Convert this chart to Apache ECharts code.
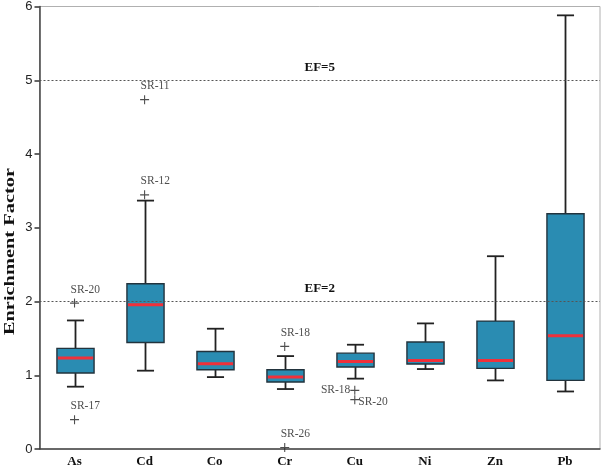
<!DOCTYPE html>
<html>
<head>
<meta charset="utf-8">
<script src="https://cdn.jsdelivr.net/npm/echarts@6/dist/echarts.min.js"></script>
<style>html,body{margin:0;padding:0;background:#fff;}#c{width:606px;height:470px;}</style>
</head>
<body>
<div id="c"></div>
<script>
const categories = ['As', 'Cd', 'Co', 'Cr', 'Cu', 'Ni', 'Zn', 'Pb'];
const whiskerLow  = [0.845, 1.062, 0.975, 0.813, 0.954, 1.084, 0.93, 0.78];
const q1          = [1.03, 1.445, 1.075, 0.908, 1.111, 1.152, 1.093, 0.93];
const median      = [1.233, 1.956, 1.157, 0.975, 1.188, 1.20, 1.20, 1.535];
const q3          = [1.364, 2.24, 1.323, 1.075, 1.30, 1.45, 1.734, 3.19];
const whiskerHigh = [1.743, 3.368, 1.631, 1.26, 1.414, 1.703, 2.614, 5.88];

const outlierCats   = ['As', 'As', 'Cd', 'Cd', 'Cr', 'Cr', 'Cu', 'Cu'];
const outlierValues = [1.978, 0.398, 4.737, 3.446, 1.391, 0.02, 0.795, 0.669];
const outlierNames  = ['SR-20', 'SR-17', 'SR-11', 'SR-12', 'SR-18', 'SR-26', 'SR-18', 'SR-20'];

const thresholds = [5, 2];
const thresholdLabels = ['EF=5', 'EF=2'];

const yTicks = { min: 0, max: 6, interval: 1 };

const boxData = categories.map((c, i) => [i, whiskerLow[i], q1[i], median[i], q3[i], whiskerHigh[i]]);

const labelStyleFor = (name, cat) => {
  if (cat === 'Cu' && name === 'SR-18') return { position: 'left', distance: 0 };
  if (cat === 'Cu' && name === 'SR-20') return { position: 'right', distance: -1, offset: [0, 2] };
  return { position: 'top', align: 'left', distance: 3, offset: [-4, 0] };
};

const outlierData = outlierValues.map((v, i) => ({
  value: [categories.indexOf(outlierCats[i]), v],
  name: outlierNames[i],
  label: labelStyleFor(outlierNames[i], outlierCats[i])
}));

const chart = echarts.init(document.getElementById('c'), null, { renderer: 'canvas' });
chart.setOption({
  animation: false,
  backgroundColor: '#fff',
  grid: { left: 39.5, right: 6, top: 5, bottom: 21, show: true, borderColor: '#b0b0b0', borderWidth: 1 },
  xAxis: {
    type: 'category',
    data: categories,
    boundaryGap: true,
    axisLine: { lineStyle: { color: '#444', width: 1.5 } },
    axisTick: { alignWithLabel: true, length: 5, lineStyle: { color: '#333', width: 1.5 } },
    axisLabel: { fontFamily: 'Liberation Serif', fontWeight: 'bold', fontSize: 13, color: '#111', margin: 6 },
    splitLine: { show: false }
  },
  yAxis: {
    type: 'value',
    min: yTicks.min, max: yTicks.max, interval: yTicks.interval,
    axisLine: { show: true, lineStyle: { color: '#444', width: 1.5 } },
    axisTick: { show: true, length: 5, lineStyle: { color: '#333', width: 1.5 } },
    axisLabel: { fontFamily: 'Liberation Sans', fontSize: 13, color: '#222', margin: 7 },
    splitLine: { show: false }
  },
  graphic: [{
    type: 'text',
    left: 3, top: 168,
    rotation: Math.PI / 2,
    scaleX: 1.36,
    style: { text: 'Enrichment Factor', font: 'bold 15px "Liberation Serif"', fill: '#111' }
  }],
  series: [
    {
      type: 'custom',
      data: boxData,
      z: 3,
      renderItem: function (params, api) {
        const x = api.value(0);
        const band = api.size([1, 0])[0];
        const bw = band * 0.53;
        const cap = bw * 0.46;
        const pMin = api.coord([x, api.value(1)]);
        const pQ1 = api.coord([x, api.value(2)]);
        const pMed = api.coord([x, api.value(3)]);
        const pQ3 = api.coord([x, api.value(4)]);
        const pMax = api.coord([x, api.value(5)]);
        const cx = Math.round(pMin[0]) + 0.5;
        const ls = { stroke: '#222', lineWidth: 1.8 };
        return {
          type: 'group',
          children: [
            { type: 'line', shape: { x1: cx, y1: pMax[1], x2: cx, y2: pQ3[1] }, style: ls },
            { type: 'line', shape: { x1: cx, y1: pQ1[1], x2: cx, y2: pMin[1] }, style: ls },
            { type: 'line', shape: { x1: cx - cap / 2, y1: pMax[1], x2: cx + cap / 2, y2: pMax[1] }, style: ls },
            { type: 'line', shape: { x1: cx - cap / 2, y1: pMin[1], x2: cx + cap / 2, y2: pMin[1] }, style: ls },
            { type: 'rect', shape: { x: cx - bw / 2, y: pQ3[1], width: bw, height: pQ1[1] - pQ3[1] },
              style: { fill: '#2a8cb2', stroke: '#22333d', lineWidth: 1.4 } },
            { type: 'line', shape: { x1: cx - bw / 2 + 1, y1: pMed[1], x2: cx + bw / 2 - 1, y2: pMed[1] },
              style: { stroke: '#f0303a', lineWidth: 3 } }
          ]
        };
      },
      markLine: {
        silent: true,
        symbol: 'none',
        lineStyle: { type: [2, 2], color: '#555', width: 1 },
        label: { show: true, position: 'middle', fontFamily: 'Liberation Serif', fontWeight: 'bold', fontSize: 13, color: '#111', distance: 6,
                 formatter: p => p.name },
        data: thresholds.map((t, i) => ({ yAxis: t, name: thresholdLabels[i] }))
      }
    },
    {
      type: 'scatter',
      data: outlierData,
      z: 4,
      symbol: 'path://M4.4,0h1.2v10h-1.2z M0,4.4h10v1.2h-10z',
      symbolSize: 9,
      itemStyle: { color: '#222' },
      label: {
        show: true,
        formatter: p => p.name,
        fontFamily: 'Liberation Serif',
        fontSize: 11.5,
        color: '#222'
      }
    }
  ]
});
</script>
</body>
</html>
